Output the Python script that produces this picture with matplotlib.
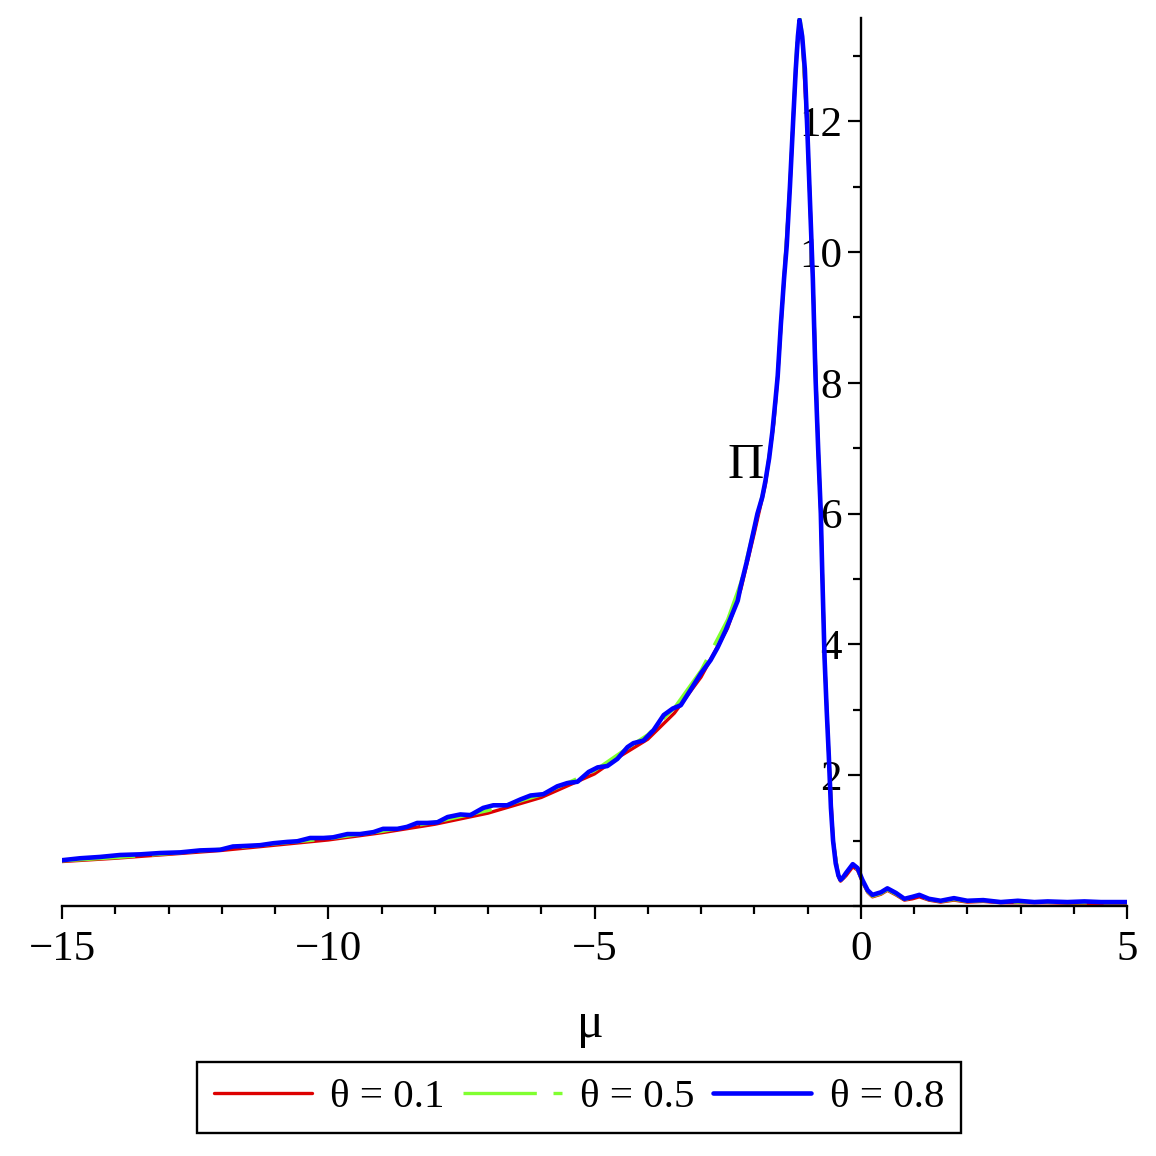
"""Pi(mu) for three values of theta, Maple-style axes crossing at the origin."""
import matplotlib
matplotlib.use("Agg")
import matplotlib.pyplot as plt
from matplotlib.ticker import FixedLocator, MultipleLocator

# theta = 0.8 (blue, drawn on top, wiggly)
mu_blue = [-15.0, -14.66, -14.29, -13.91, -13.53, -13.16, -12.78, -12.41, -12.03,
           -11.79, -11.52, -11.28, -11.03, -10.77, -10.58, -10.34, -10.09, -9.91,
           -9.64, -9.40, -9.15, -8.97, -8.70, -8.52, -8.33, -8.14, -7.95, -7.76,
           -7.52, -7.33, -7.09, -6.90, -6.64, -6.39, -6.20, -5.96, -5.70, -5.51,
           -5.32, -5.11, -4.94, -4.76, -4.57, -4.38, -4.27, -4.08, -3.89, -3.70,
           -3.53, -3.38, -3.20, -3.00, -2.82, -2.69, -2.54, -2.41, -2.31, -2.26,
           -2.13, -2.01, -1.94, -1.85, -1.79, -1.72, -1.66, -1.60, -1.56, -1.50,
           -1.44, -1.39, -1.33, -1.27, -1.22, -1.18, -1.15, -1.10, -1.05, -1.00,
           -0.95, -0.90, -0.85, -0.80, -0.75, -0.72, -0.68, -0.64, -0.60, -0.56,
           -0.52, -0.47, -0.42, -0.38, -0.33, -0.28, -0.15, -0.06, 0.03, 0.13,
           0.22, 0.38, 0.50, 0.66, 0.82, 0.97, 1.10, 1.28, 1.50, 1.75, 2.00, 2.30,
           2.63, 2.95, 3.26, 3.51, 3.88, 4.20, 4.51, 5.00]
pi_blue = [0.70, 0.73, 0.75, 0.78, 0.79, 0.81, 0.82, 0.85, 0.86,
           0.91, 0.92, 0.93, 0.96, 0.98, 0.99, 1.04, 1.04, 1.05,
           1.10, 1.10, 1.13, 1.18, 1.18, 1.21, 1.27, 1.27, 1.28, 1.36,
           1.40, 1.39, 1.50, 1.54, 1.54, 1.63, 1.69, 1.71, 1.83, 1.88,
           1.90, 2.05, 2.12, 2.14, 2.25, 2.43, 2.49, 2.53, 2.69, 2.92,
           3.02, 3.07, 3.30, 3.56, 3.76, 3.95, 4.21, 4.47, 4.67, 4.87,
           5.30, 5.74, 6.00, 6.25, 6.50, 6.85, 7.25, 7.75, 8.10, 8.90,
           9.60, 10.10, 11.00, 12.00, 12.80, 13.30, 13.55, 13.30, 12.80, 11.80,
           10.70, 9.60, 8.10, 7.00, 6.00, 5.00, 3.80, 3.00, 2.30, 1.50,
           1.00, 0.65, 0.47, 0.40, 0.44, 0.50, 0.64, 0.58, 0.40, 0.24,
           0.17, 0.21, 0.27, 0.20, 0.11, 0.14, 0.17, 0.11, 0.08, 0.12, 0.08, 0.09,
           0.06, 0.08, 0.06, 0.07, 0.06, 0.07, 0.06, 0.06]

# theta = 0.1 (red, smoother, a touch lower)
mu_red = [-15.0, -14.0, -13.0, -12.0, -11.0, -10.0, -9.0, -8.0, -7.0, -6.0,
          -5.0, -4.5, -4.0, -3.5, -3.0, -2.5, -2.25, -2.0, -1.79, -1.63,
          -1.56, -1.44, -1.33, -1.27, -1.20, -1.15, -1.10, -1.00, -0.90, -0.80,
          -0.75, -0.68, -0.60, -0.52, -0.42, -0.38, -0.28, -0.15, -0.06, 0.03,
          0.13, 0.22, 0.38, 0.50, 0.66, 0.82, 0.97, 1.10, 1.28, 1.50, 1.75,
          2.00, 2.30, 2.63, 3.00, 3.50, 4.00, 4.50, 5.00]
pi_red = [0.68, 0.73, 0.79, 0.85, 0.93, 1.01, 1.12, 1.25, 1.42, 1.66,
          2.02, 2.30, 2.55, 2.95, 3.50, 4.25, 4.85, 5.70, 6.45, 7.40,
          8.10, 9.60, 11.00, 12.00, 13.10, 13.50, 13.30, 11.80, 9.60, 7.00,
          6.00, 3.80, 2.30, 1.00, 0.45, 0.38, 0.46, 0.60, 0.55, 0.37,
          0.21, 0.14, 0.18, 0.24, 0.17, 0.09, 0.11, 0.14, 0.09, 0.06, 0.09,
          0.06, 0.07, 0.05, 0.05, 0.05, 0.04, 0.04, 0.04]

# theta = 0.5 (green, dashed, in between)
mu_green = mu_red
pi_green = [0.69, 0.74, 0.80, 0.87, 0.95, 1.03, 1.14, 1.28, 1.46, 1.70,
            2.07, 2.35, 2.62, 3.03, 3.60, 4.38, 4.95, 5.78, 6.48, 7.42,
            8.12, 9.62, 11.02, 12.05, 13.20, 13.62, 13.35, 11.80, 9.60, 7.00,
            6.00, 3.80, 2.30, 1.00, 0.46, 0.39, 0.47, 0.62, 0.56, 0.38,
            0.22, 0.15, 0.19, 0.25, 0.18, 0.10, 0.12, 0.15, 0.10, 0.07, 0.10,
            0.07, 0.08, 0.06, 0.06, 0.06, 0.05, 0.05, 0.05]

x_major = [-15, -10, -5, 0, 5]
y_major = [2, 4, 6, 8, 10, 12]

FS = 30


def main():
    plt.rcParams["font.family"] = ["Liberation Serif", "DejaVu Serif"]
    fig = plt.figure(figsize=(11.56, 11.56), dpi=100)
    ax = fig.add_axes([62 / 1156, 1 - 906 / 1156, (1127 - 62) / 1156, (906 - 18) / 1156])
    ax.set_xlim(-15, 5)
    ax.set_ylim(0, 13.58)

    style = dict(solid_joinstyle="round", solid_capstyle="round")
    l1, = ax.plot(mu_red, pi_red, color="#dd0000", lw=2.4, label="θ = 0.1", **style)
    l2, = ax.plot(mu_green, pi_green, color="#80ff30", lw=2.4, dashes=(22, 5),
                  label="θ = 0.5")
    l3, = ax.plot(mu_blue, pi_blue, color="#0000ff", lw=3.3, label="θ = 0.8", **style)

    # axes through the origin
    for side in ("top", "right"):
        ax.spines[side].set_visible(False)
    ax.spines["left"].set_position(("data", 0))
    ax.spines["bottom"].set_position(("data", 0))
    for side in ("left", "bottom"):
        ax.spines[side].set_linewidth(1.7)

    ax.xaxis.set_major_locator(FixedLocator(x_major))
    ax.xaxis.set_minor_locator(MultipleLocator(1))
    ax.yaxis.set_major_locator(FixedLocator(y_major))
    ax.yaxis.set_minor_locator(MultipleLocator(1))
    ax.tick_params(which="major", direction="out", length=9.5, width=1.6,
                   labelsize=FS + 1)
    ax.tick_params(which="minor", direction="out", length=5.5, width=1.6)
    ax.tick_params(axis="x", pad=8)
    ax.tick_params(axis="y", pad=4)

    ax.text(-5.08, -1.82, "μ", fontsize=FS + 6, ha="center", va="center",
            clip_on=False)
    ax.text(-2.16, 6.74, "Π", fontsize=FS + 6, ha="center", va="center")

    leg = fig.legend(handles=[l1, l2, l3], loc="center",
                     bbox_to_anchor=(579 / 1156, 1 - 1097.5 / 1156), ncol=3,
                     fontsize=FS - 0.5, frameon=True, fancybox=False, framealpha=1,
                     edgecolor="black", borderpad=0.4, handlelength=2.4,
                     handletextpad=0.45, columnspacing=0.45)
    leg.get_frame().set_linewidth(1.7)

    fig.savefig("out.png", dpi=100)
    plt.close(fig)


if __name__ == "__main__":
    main()
